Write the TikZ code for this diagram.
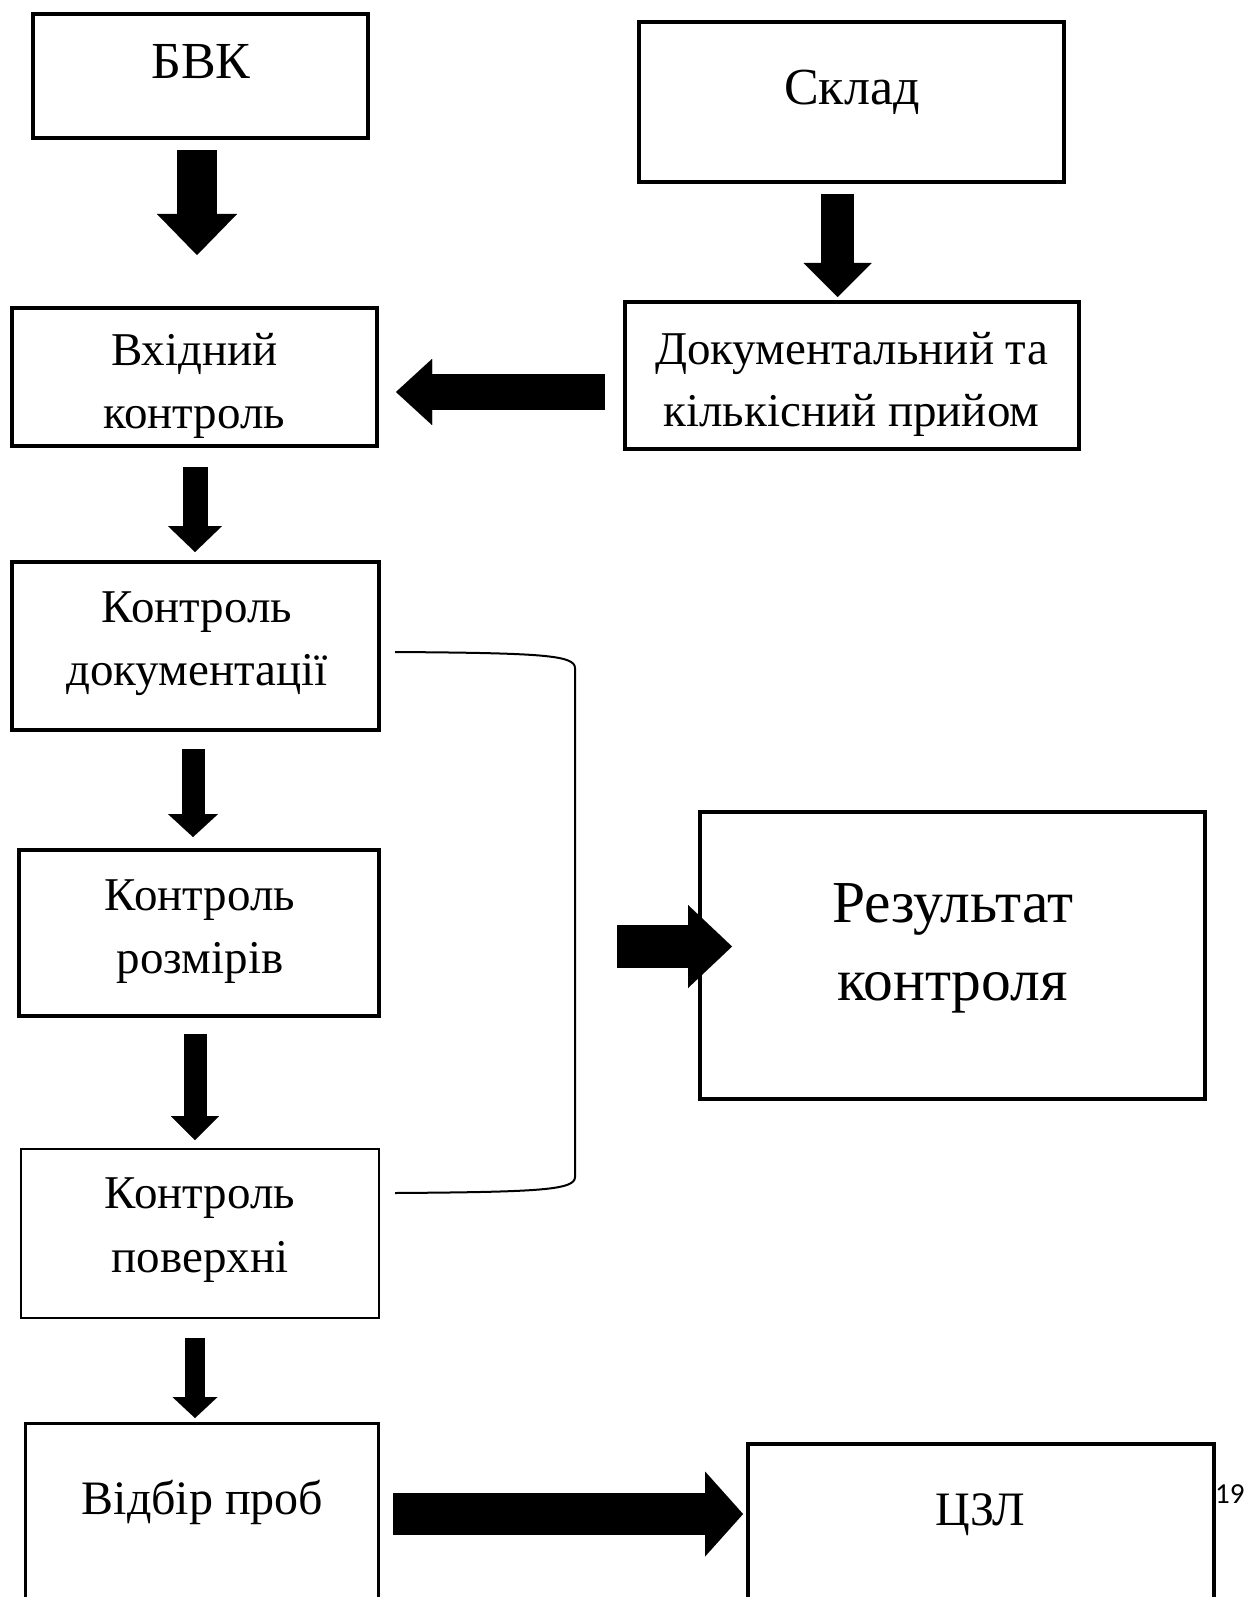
\documentclass[tikz,border=0pt]{standalone}
\usepackage{fontspec}
\setmainfont{Liberation Serif}
\newfontfamily\pagenumfont{Carlito}
\usetikzlibrary{arrows.meta}

\tikzset{
  box/.style={draw, line width=4pt, inner sep=0pt},
  thinbox/.style={draw, line width=2pt, inner sep=0pt},
  lbl/.style={anchor=base, align=center, inner sep=0pt},
  blockarr/.style args={#1/#2/#3}{line width=#1,
    -{Triangle[length=#3, width=#2, line width=0.01pt]}},
}

\begin{document}
\begin{tikzpicture}[x=1pt, y=-1pt]
   \useasboundingbox (0,0) rectangle (1243,1597);
   \clip (0,0) rectangle (1243,1597);

   % boxes
   \node[box, minimum width=335, minimum height=124] (bvk)   at (200.5,76)  {};
   \node[box, minimum width=425, minimum height=160] (sklad) at (851.5,102) {};
   \node[box, minimum width=365, minimum height=138] (vkhid) at (194.5,377) {};
   \node[box, minimum width=454, minimum height=147] (pryom) at (852,375.5) {};
   \node[box, minimum width=367, minimum height=168] (kdok)  at (195.5,646) {};
   \node[box, minimum width=360, minimum height=166] (krozm) at (199,933)   {};
   \node[thinbox, minimum width=358, minimum height=169] (kpov) at (200,1233.5) {};
   \node[box, line width=3pt, minimum width=353, minimum height=260] (vidbir) at (202,1553.5) {};
   \node[box, minimum width=505, minimum height=287] (rezult) at (952.5,955.5) {};
   \node[box, minimum width=466, minimum height=260] (czl)   at (981,1574)  {};

   % texts (base = last line)
   \node[lbl, font=\fontsize{52}{60}\selectfont] (bvk-t)   at (201,79)  {БВК};
   \node[lbl, font=\fontsize{52}{60}\selectfont] (sklad-t) at (852,105) {Склад};
   \node[lbl, font=\fontsize{47}{63}\selectfont] (vkhid-t) at (194.5,428) {Вхідний\\контроль};
   \node[lbl, font=\fontsize{47}{62}\selectfont] (pryom-t) at (851.5,426) {Документальний та\\кількісний прийом};
   \node[lbl, font=\fontsize{47}{63}\selectfont] (kdok-t)  at (197,685) {Контроль\\документації};
   \node[lbl, font=\fontsize{47}{63}\selectfont] (krozm-t) at (200,973) {Контроль\\розмірів};
   \node[lbl, font=\fontsize{47}{64}\selectfont] (kpov-t)  at (200,1272) {Контроль\\поверхні};
   \node[lbl, font=\fontsize{48}{60}\selectfont] (vidbir-t) at (202.5,1514) {Відбір проб};
   \node[lbl, font=\fontsize{59.5}{78}\selectfont] (rezult-t) at (952.5,1000) {Результат\\контроля};
   \node[lbl, font=\fontsize{48}{60}\selectfont] (czl-t)   at (980.5,1525) {ЦЗЛ};
   \node[anchor=base west, inner sep=0pt, font=\pagenumfont\fontsize{29}{32}\selectfont] (pgnum) at (1215,1503) {19};

   % bracket over the three checks
   \coordinate (brtop) at (395,652);
   \coordinate (brbot) at (395,1193);
   \draw[line width=2pt] (brtop) .. controls (540,653) and (575,655) .. (575,668)
     -- (575,1177) .. controls (575,1190) and (540,1192) .. (brbot);

   % block arrows
   \coordinate (a1s) at (197,150);   \coordinate (a1e) at (197,255);
   \coordinate (a2s) at (837.5,194); \coordinate (a2e) at (837.5,297);
   \coordinate (a3s) at (195,467);   \coordinate (a3e) at (195,552);
   \coordinate (a4s) at (193,749);   \coordinate (a4e) at (193,837);
   \coordinate (a5s) at (195,1034);  \coordinate (a5e) at (195,1140);
   \coordinate (a6s) at (195,1338);  \coordinate (a6e) at (195,1418);
   \coordinate (a7s) at (605,392);   \coordinate (a7e) at (396,392);
   \coordinate (a8s) at (617,946.5); \coordinate (a8e) at (732,946.5);
   \coordinate (a9s) at (393,1514);  \coordinate (a9e) at (743,1514);

   \draw[blockarr=40pt/80pt/41pt] (a1s) -- (a1e);
   \draw[blockarr=33pt/68pt/34pt] (a2s) -- (a2e);
   \draw[blockarr=25pt/54pt/26pt] (a3s) -- (a3e);
   \draw[blockarr=23pt/50pt/23pt] (a4s) -- (a4e);
   \draw[blockarr=23pt/48pt/24pt] (a5s) -- (a5e);
   \draw[blockarr=20pt/45pt/21pt] (a6s) -- (a6e);
   \draw[blockarr=36pt/66pt/36pt] (a7s) -- (a7e);
   \draw[blockarr=43pt/83pt/44pt] (a8s) -- (a8e);
   \draw[blockarr=42pt/85pt/38pt] (a9s) -- (a9e);
\end{tikzpicture}
\end{document}
